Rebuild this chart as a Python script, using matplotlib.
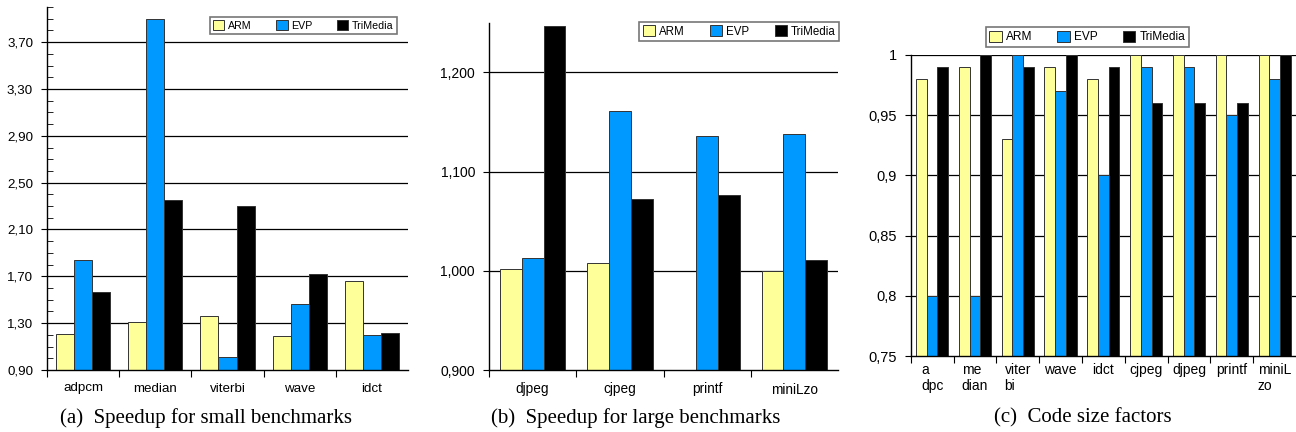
import numpy as np
import matplotlib
matplotlib.use("Agg")
import matplotlib.pyplot as plt
from matplotlib.ticker import FixedLocator, MultipleLocator, FuncFormatter

plt.rcParams['font.family'] = ['Liberation Sans', 'DejaVu Sans']

series = ["ARM", "EVP", "TriMedia"]
colors = ["#FFFF99", "#0099FF", "#000000"]

small_bench = ["adpcm", "median", "viterbi", "wave", "idct"]
small_arm = [1.21, 1.31, 1.36, 1.19, 1.66]
small_evp = [1.84, 3.90, 1.01, 1.46, 1.20]
small_tri = [1.57, 2.35, 2.30, 1.72, 1.22]

large_bench = ["djpeg", "cjpeg", "printf", "miniLzo"]
large_arm = [1.002, 1.008, np.nan, 1.000]
large_evp = [1.013, 1.161, 1.136, 1.138]
large_tri = [1.247, 1.072, 1.076, 1.011]

size_bench = ["a\ndpc", "me\ndian", "viter\nbi", "wave", "idct", "cjpeg", "djpeg", "printf", "miniL\nzo"]
size_arm = [0.98, 0.99, 0.93, 0.99, 0.98, 1.00, 1.00, 1.00, 1.00]
size_evp = [0.80, 0.80, 1.00, 0.97, 0.90, 0.99, 0.99, 0.95, 0.98]
size_tri = [0.99, 1.00, 0.99, 1.00, 0.99, 0.96, 0.96, 0.96, 1.00]

captions = ["(a)  Speedup for small benchmarks",
            "(b)  Speedup for large benchmarks",
            "(c)  Code size factors"]

W, H = 1296, 432
fig = plt.figure(figsize=(W / 100, H / 100), dpi=100)


def rect(l, r, t, b):
    return [l / W, 1 - b / H, (r - l) / W, (b - t) / H]


def draw(ax, labels, data, ylim, yticks, fmt, fs_ytick, fs_xtick, fs_leg, leg_box,
         minor=None, xlabel_pad=9, colsp=2.2):
    n = len(labels)
    x = np.arange(n) + 0.5
    w = 0.25
    for k, (vals, c) in enumerate(zip(data, colors)):
        ax.bar(x + (k - 1) * w, vals, width=w, color=c, edgecolor="#333333",
               linewidth=0.7, label=series[k], zorder=3)
    ax.set_xlim(0, n)
    ax.set_ylim(*ylim)
    for s in ["top", "right"]:
        ax.spines[s].set_visible(False)
    ax.spines["left"].set_linewidth(1.0)
    ax.spines["bottom"].set_linewidth(1.0)
    ax.spines["bottom"].set_zorder(5)
    ax.set_yticks(yticks)
    ax.yaxis.set_major_formatter(FuncFormatter(fmt))
    ax.tick_params(axis="y", which="major", direction="out", length=4, width=0.8,
                   labelsize=fs_ytick, pad=6)
    if minor is not None:
        ax.yaxis.set_minor_locator(MultipleLocator(minor))
        ax.tick_params(axis="y", which="minor", direction="in", length=4, width=0.6)
    for t in yticks:
        if t > ylim[0] + 1e-9:
            ax.axhline(t, color="black", linewidth=0.9, zorder=1)
    ax.xaxis.set_major_locator(FixedLocator(np.arange(n)))
    ax.xaxis.set_minor_locator(FixedLocator(x))
    ax.set_xticklabels([], minor=False)
    ax.set_xticklabels(labels, minor=True, multialignment="left")
    ax.tick_params(axis="x", which="major", direction="out", length=5, width=0.8)
    ax.tick_params(axis="x", which="minor", length=0, labelsize=fs_xtick, pad=xlabel_pad)
    l, r, t, b = leg_box
    leg = ax.legend(loc="upper right", bbox_to_anchor=(r / W, 1 - t / H),
                    bbox_transform=fig.transFigure, ncol=3, fontsize=fs_leg,
                    handlelength=1.05, handleheight=1.05, handletextpad=0.35,
                    columnspacing=colsp, borderpad=0.3, borderaxespad=0,
                    fancybox=False, frameon=True)
    leg.get_frame().set_edgecolor("#555555")
    leg.get_frame().set_linewidth(1.2)
    leg.set_zorder(10)
    return ax


ax1 = fig.add_axes(rect(47, 408, 7, 370))
draw(ax1, small_bench, [small_arm, small_evp, small_tri], (0.9, 4.0),
     [0.9, 1.3, 1.7, 2.1, 2.5, 2.9, 3.3, 3.7],
     lambda v, p: f"{v:.2f}".replace(".", ","), 9.6, 9.6, 7.7, (207, 397, 17, 37),
     minor=0.1, colsp=2.3)

ax2 = fig.add_axes(rect(489, 838, 22.7, 370))
draw(ax2, large_bench, [large_arm, large_evp, large_tri], (0.9, 1.25),
     [0.9, 1.0, 1.1, 1.2],
     lambda v, p: f"{v:.3f}".replace(".", ","), 10, 9.8, 8.3, (638, 839, 22, 43),
     colsp=2.2)

ax3 = fig.add_axes(rect(910.7, 1296, 55, 356))
draw(ax3, size_bench, [size_arm, size_evp, size_tri], (0.75, 1.0),
     [0.75, 0.8, 0.85, 0.9, 0.95, 1.0],
     lambda v, p: f"{v:g}".replace(".", ","), 10.5, 10, 8.6, (984, 1189, 27, 49),
     xlabel_pad=5, colsp=2.1)

for cx, cap in zip([206, 636, 1083], captions):
    fig.text(cx / W, 1 - 418 / H, cap, ha="center", va="center", fontsize=15,
             family=["Liberation Serif", "DejaVu Serif"])

fig.savefig("out.png", dpi=100)
